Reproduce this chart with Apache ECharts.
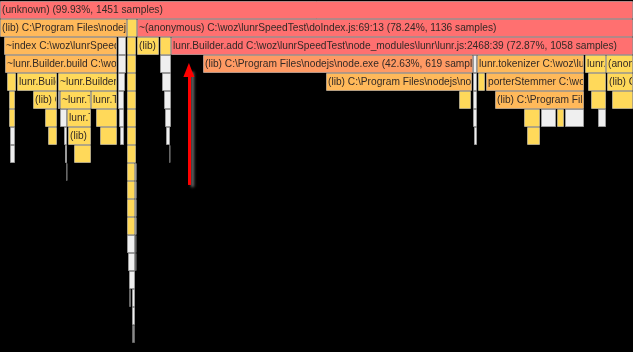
<!DOCTYPE html>
<html><head><meta charset="utf-8">
<script src="https://cdn.jsdelivr.net/npm/echarts@6/dist/echarts.min.js"></script>
<style>html,body{margin:0;padding:0;background:#000;}#c{width:633px;height:352px;}</style>
</head><body><div id="c"></div>
<script>
// Flame graph of a CPU profile, total samples
const TOTAL_SAMPLES = 1452;
const LIB = '(lib) C:\\Program Files\\nodejs\\node.exe';
const LJS = ' C:\\woz\\lunrSpeedTest\\node_modules\\lunr\\lunr.js';

// each row = stack depth; entries: [startSample, sampleCount, heatKind, frameName]
const row0 = [[0, 1451, 'red', '(unknown)']];
const row1 = [[0, 290, 'orange', LIB], [291, 22, 'yellow', '(lib) C:\\WINDOWS\\SYSTEM32\\ntdll.dll'],
  [315, 1136, 'red', '~(anonymous) C:\\woz\\lunrSpeedTest\\doIndex.js:69:13']];
const row2 = [[9, 259, 'orange', '~index C:\\woz\\lunrSpeedTest\\doIndex.js:7:15'], [270, 19, 'gray', '(garbage collector)'],
  [291, 21, 'yellow', '(program)'], [315, 50, 'yellow', LIB], [366, 26, 'yellow', '~lunr.Builder.field' + LJS + ':2398:41'],
  [393, 1058, 'red', 'lunr.Builder.add' + LJS + ':2468:39']];
const row3 = [[11, 257, 'orange', '~lunr.Builder.build' + LJS + ':2555:41'], [270, 18, 'gray', '(garbage collector)'],
  [291, 21, 'yellow', '(program)'], [367, 24, 'gray', '(lib)'], [465, 619, 'salmon', LIB], [1085, 8, 'gray', '(lib)'],
  [1094, 245, 'orange', 'lunr.tokenizer' + LJS + ':241:24'], [1340, 50, 'yellow', 'lunr.Pipeline.run' + LJS + ':574:38'],
  [1390, 61, 'yellow', '(anonymous)' + LJS + ':2500:22']];
const row4 = [[16, 21, 'yellow', '(lib)'], [39, 92, 'yellow', 'lunr.Builder.createFieldVectors' + LJS + ':2600:54'],
  [133, 135, 'yellow', '~lunr.Builder.createTokenSet' + LJS + ':2690:50'], [270, 17, 'gray', '(lib)'],
  [291, 21, 'yellow', '(program)'], [371, 20, 'gray', '(lib)'], [747, 335, 'orange', LIB], [1085, 8, 'gray', '(lib)'],
  [1096, 16, 'yellow', '(lib)'], [1114, 225, 'orange', 'porterStemmer' + LJS + ':1204:23'],
  [1348, 41, 'yellow', '(lib)'], [1391, 60, 'yellow', LIB]];
const row5 = [[21, 13, 'yellow', '(lib)'], [76, 55, 'yellow', LIB], [133, 5, 'gray', '(lib)'],
  [138, 71, 'yellow', '~lunr.TokenSet.fromArray' + LJS + ':1580:37'], [209, 59, 'yellow', 'lunr.TokenSet.insert' + LJS + ':1790:41'],
  [270, 14, 'gray', '(lib)'], [291, 21, 'yellow', '(program)'], [376, 15, 'gray', '(lib)'], [1052, 28, 'yellow', '(lib)'],
  [1085, 8, 'gray', '(lib)'], [1135, 204, 'orange', LIB], [1355, 34, 'yellow', '(lib)'], [1402, 49, 'yellow', '(lib)']];
const row6 = [[21, 13, 'yellow', '(lib)'], [103, 28, 'yellow', '(lib)'], [138, 16, 'gray', '(lib)'],
  [154, 55, 'yellow', 'lunr.TokenSet.insert' + LJS + ':1790:41'], [220, 48, 'yellow', LIB], [273, 11, 'gray', '(lib)'],
  [291, 21, 'yellow', '(program)'], [378, 13, 'gray', '(lib)'], [1085, 8, 'gray', '(lib)'], [1201, 37, 'yellow', '(lib)'],
  [1240, 35, 'gray', '(lib)'], [1277, 16, 'yellow', '(lib)'], [1295, 44, 'gray', '(lib)'], [1371, 18, 'gray', '(lib)']];
const row7 = [[23, 11, 'gray', '(lib)'], [110, 21, 'yellow', '(lib)'], [147, 7, 'gray', '(lib)'], [156, 53, 'yellow', LIB],
  [229, 39, 'yellow', '(lib)'], [275, 9, 'gray', '(lib)'], [291, 21, 'yellow', '(program)'], [381, 9, 'gray', '(lib)'],
  [1087, 6, 'gray', '(lib)'], [1208, 30, 'yellow', '(lib)']];
const row8 = [[23, 11, 'gray', '(lib)'], [149, 5, 'gray', '(lib)'], [170, 39, 'yellow', '(lib)'],
  [291, 21, 'yellow', '(program)'], [387, 3, 'dark', '(lib)']];
const row9 = [[151, 3, 'dark', '(lib)'], [291, 18, 'yellow', '(program)'], [309, 3, 'gray', '(lib)']];
const row10 = [[291, 18, 'yellow', '(program)'], [309, 3, 'gray', '(lib)']];
const row11 = [[291, 18, 'yellow', '(program)'], [309, 3, 'gray', '(lib)']];
const row12 = [[291, 18, 'yellow', '(program)'], [309, 3, 'gray', '(lib)']];
const row13 = [[291, 19, 'gray', '(lib)'], [310, 2, 'dark', '(lib)']];
const row14 = [[294, 16, 'gray', '(lib)'], [310, 2, 'dark', '(lib)']];
const row15 = [[296, 13, 'gray', '(lib)']];
const row16 = [[295, 5, 'dark', '(lib)'], [303, 6, 'gray', '(lib)']];
const row17 = [[303, 6, 'gray', '(lib)']];
const row18 = [[303, 6, 'dark', '(lib)']];

// annotation arrow (sample position, from depth to depth)
const arrowSample = 433;
const arrowFrom = 10.22;
const arrowTo = 3.83;

const rows = [row0, row1, row2, row3, row4, row5, row6, row7, row8, row9, row10, row11, row12, row13, row14, row15, row16, row17, row18];

const kindStyle = {
  red:    { fill: '#ff7070', stroke: 'rgba(255,255,255,0.4)' },
  salmon: { fill: '#ff9a64', stroke: 'rgba(255,255,255,0.4)' },
  orange: { fill: '#ffb95a', stroke: 'rgba(255,255,255,0.4)' },
  yellow: { fill: '#ffd95a', stroke: 'rgba(255,255,255,0.4)' },
  gray:   { fill: '#efefef', stroke: '#9a9a9a' },
  dark:   { fill: '#8a8a8a', stroke: '#666666' }
};

const frames = [];
const seriesData = [];
rows.forEach((row, depth) => {
  row.forEach(f => {
    const idx = frames.length;
    frames.push({ kind: f[2], name: f[3], count: f[1] });
    seriesData.push([f[0], f[0] + f[1], depth, idx]);
  });
});

function frameLabel(f) {
  return f.name + ' (' + (f.count / TOTAL_SAMPLES * 100).toFixed(2) + '%, ' + f.count + ' samples)';
}

const chart = echarts.init(document.getElementById('c'), null, { renderer: 'canvas' });
chart.setOption({
  backgroundColor: '#000000',
  animation: false,
  grid: { left: 0, right: 0, top: 1, bottom: 0 },
  xAxis: { type: 'value', min: 0, max: 1451, show: false },
  yAxis: { type: 'value', min: 0, max: 19.5, inverse: true, show: false },
  series: [{
    type: 'custom',
    clip: false,
    data: seriesData,
    renderItem: function (params, api) {
      const f = frames[api.value(3)];
      const p0 = api.coord([api.value(0), api.value(2)]);
      const p1 = api.coord([api.value(1), api.value(2) + 1]);
      const x0 = Math.round(p0[0]), x1 = Math.round(p1[0]);
      const y0 = Math.round(p0[1]), y1 = Math.round(p1[1]);
      const w = x1 - x0, h = y1 - y0;
      const st = kindStyle[f.kind];
      const children = [{
        type: 'rect',
        shape: { x: x0 + 0.5, y: y0 + 0.5, width: Math.max(w - 1, 0.6), height: h - 1 },
        style: { fill: st.fill, stroke: st.stroke, lineWidth: 1 }
      }];
      if (p1[0] - p0[0] >= 21.5) {
        children.push({
          type: 'text',
          clipPath: { type: 'rect', shape: { x: x0 + 1, y: y0, width: w - 2, height: h } },
          style: {
            x: x0 + 2, y: y0 + h / 2 + 0.5, text: frameLabel(f),
            font: '10.2px "Liberation Sans", Arial, sans-serif', fill: '#332a26',
            verticalAlign: 'middle', align: 'left'
          }
        });
      }
      return { type: 'group', children: children };
    },
    markLine: {
      silent: true,
      animation: false,
      symbol: ['none', 'triangle'],
      symbolSize: [11, 14],
      label: { show: false },
      lineStyle: { color: '#ff0000', width: 3, type: 'solid', opacity: 1,
        shadowColor: 'rgba(120,120,120,0.95)', shadowBlur: 3, shadowOffsetX: 3, shadowOffsetY: 2 },
      data: [[{ coord: [arrowSample, arrowFrom] }, { coord: [arrowSample, arrowTo] }]]
    }
  }]
});
</script></body></html>
